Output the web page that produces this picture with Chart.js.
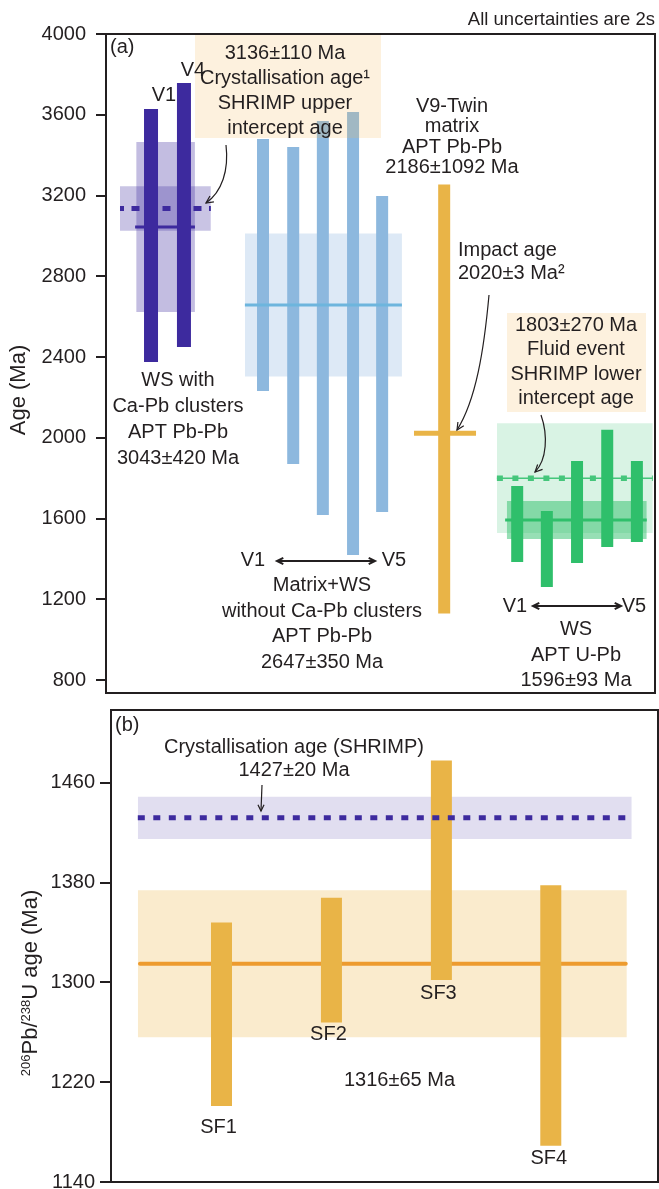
<!DOCTYPE html>
<html>
<head>
<meta charset="utf-8">
<script src="https://cdn.jsdelivr.net/npm/chart.js@4.4.1/dist/chart.umd.min.js"></script>
<style>
  html, body { margin: 0; padding: 0; background: #fff; }
  #wrap { position: relative; width: 659px; height: 1189px; overflow: hidden; }
  canvas { position: absolute; left: 0; }
  #chartA { top: 0; }
  #chartB { top: 700px; }
</style>
</head>
<body>
<div id="wrap">
  <canvas id="chartA" width="659" height="700"></canvas>
  <canvas id="chartB" width="659" height="489"></canvas>
</div>
<script>
// ---------- panel (a) data ----------
const yTicksA = [800, 1200, 1600, 2000, 2400, 2800, 3200, 3600, 4000];
// WS with Ca-Pb clusters, V1 and V4
const wsX  = [8.2, 14.2];
const wsLo = [2375, 2450];
const wsHi = [3629, 3757];
const wsAge = [3044, 421];          // mean, 2s
const crystAgeA = [3136, 110];
// Matrix+WS without Ca-Pb clusters, V1..V5
const mxX  = [28.6, 34.1, 39.5, 45.0, 50.3];
const mxLo = [2232, 1870, 1618, 1420, 1632];
const mxHi = [3480, 3440, 3569, 3614, 3198];
const mxAge = [2658, 354];
// V9-Twin matrix
const twinX  = [61.6];
const twinLo = [1130];
const twinHi = [3255];
const impactAge = 2022;
// WS APT U-Pb, V1..V5
const upX  = [74.9, 80.3, 85.8, 91.3, 96.7];
const upLo = [1385, 1261, 1380, 1459, 1484];
const upHi = [1761, 1637, 1885, 2040, 1885];
const upAge = [1593, 94];
const fluidAge = [1800, 272];

// ---------- panel (b) data ----------
const yTicksB = [1140, 1220, 1300, 1380, 1460];
const sfNames = ['SF1', 'SF2', 'SF3', 'SF4'];
const sfX  = [20.2, 40.3, 60.4, 80.4];
const sfLo = [1201, 1268, 1302, 1169];
const sfHi = [1348, 1368, 1478, 1378];
const sfAge = [1315, 59];
const crystAgeB = [1432, 17];

const INK = '#231f20';
const FONT = "'Liberation Sans', Arial, sans-serif";
const PURPLE = '#3d2a9e', BLUE = '#8db8de', ORANGE = '#e9b447', GREEN = '#2fbf6b';

// ---------- helpers for datasets ----------
function vbar(x, lo, hi, color, w) {
  return { data: [{x: x, y: lo}, {x: x, y: hi}], borderColor: color, borderWidth: w,
           borderCapStyle: 'butt', pointRadius: 0, fill: false };
}
function hline(x0, x1, y, color, w, dash, off, cap) {
  return { data: [{x: x0, y: y}, {x: x1, y: y}], borderColor: color, borderWidth: w,
           borderDash: dash || [], borderDashOffset: off || 0, borderCapStyle: cap || 'butt',
           pointRadius: 0, fill: false };
}
function box(x0, x1, lo, hi, color) {
  return { data: [{x: x0, y: hi}, {x: x1, y: hi}], borderColor: 'transparent', borderWidth: 0,
           backgroundColor: color, fill: {value: lo}, pointRadius: 0 };
}
function stackOrder(list) { // later in list = drawn on top
  list.forEach((d, i) => { d.order = list.length - i; });
  return list;
}

function txt(ctx, lines, x, y0, step, align, size) {
  ctx.font = (size || 20) + 'px ' + FONT;
  ctx.fillStyle = INK;
  ctx.textAlign = align || 'center';
  ctx.textBaseline = 'middle';
  lines.forEach((s, i) => ctx.fillText(s, x, y0 + i * step));
}
function head(ctx, x, y, ang, L) {
  ctx.beginPath();
  ctx.moveTo(x - L * Math.cos(ang - 0.45), y - L * Math.sin(ang - 0.45));
  ctx.lineTo(x, y);
  ctx.lineTo(x - L * Math.cos(ang + 0.45), y - L * Math.sin(ang + 0.45));
  ctx.stroke();
}
function curveArrow(ctx, p) {
  ctx.strokeStyle = INK; ctx.lineWidth = 1.2;
  ctx.beginPath();
  ctx.moveTo(p[0], p[1]);
  ctx.bezierCurveTo(p[2], p[3], p[4], p[5], p[6], p[7]);
  ctx.stroke();
  head(ctx, p[6], p[7], Math.atan2(p[7] - p[5], p[6] - p[4]), 8);
}
function dblArrow(ctx, x0, x1, y) {
  ctx.strokeStyle = INK; ctx.lineWidth = 2;
  ctx.beginPath(); ctx.moveTo(x0 + 1, y); ctx.lineTo(x1 - 1, y); ctx.stroke();
  head(ctx, x0, y, Math.PI, 7);
  head(ctx, x1, y, 0, 7);
}
function frame(ctx, a) {
  ctx.strokeStyle = INK; ctx.lineWidth = 2;
  ctx.strokeRect(a.left, a.top, a.right - a.left, a.bottom - a.top);
}

function yAxis(min, max, ticks, width, pad, tickLen) {
  return {
    type: 'linear', min: min, max: max,
    afterBuildTicks: s => { s.ticks = ticks.map(v => ({value: v})); },
    afterFit: s => { s.width = width; s.paddingTop = 0; s.paddingBottom = 0; },
    grid: { drawOnChartArea: false, drawTicks: true, tickLength: tickLen, color: INK, lineWidth: 2 },
    border: { display: true, color: INK, width: 2 },
    ticks: { color: INK, padding: pad, font: { family: FONT, size: 20 }, callback: v => String(v) }
  };
}
const baseOpts = {
  responsive: false, animation: false, devicePixelRatio: 1,
  plugins: { legend: { display: false }, tooltip: { enabled: false } },
  elements: { line: { tension: 0 } }
};

// ---------- panel (a) ----------
const dsA = [];
dsA.push(box(25.3, 53.9, mxAge[0] - mxAge[1], mxAge[0] + mxAge[1], '#dde9f6'));
dsA.push(box(5.5, 16.2, wsAge[0] - wsAge[1], wsAge[0] + wsAge[1], 'rgba(61,42,158,0.31)'));
dsA.push(box(2.55, 19.1, crystAgeA[0] - crystAgeA[1], crystAgeA[0] + crystAgeA[1], 'rgba(61,42,158,0.28)'));
dsA.push(hline(2.55, 19.1, crystAgeA[0], PURPLE, 5, [8, 7.5], 4));
dsA.push(hline(5.3, 16.2, wsAge[0], PURPLE, 3));
wsX.forEach((x, i) => dsA.push(vbar(x, wsLo[i], wsHi[i], PURPLE, 14)));
mxX.forEach((x, i) => dsA.push(vbar(x, mxLo[i], mxHi[i], BLUE, 12)));
dsA.push(hline(25.3, 53.9, mxAge[0], '#6db5dd', 3));
dsA.push(hline(56.1, 67.4, impactAge, ORANGE, 5));
twinX.forEach((x, i) => dsA.push(vbar(x, twinLo[i], twinHi[i], ORANGE, 12)));
dsA.push(box(71.2, 99.6, fluidAge[0] - fluidAge[1], fluidAge[0] + fluidAge[1], 'rgba(47,191,107,0.18)'));
dsA.push(hline(71.2, 99.6, fluidAge[0], '#45c67b', 1.5));
dsA.push(hline(71.2, 99.6, fluidAge[0], '#45c67b', 5.5, [6, 9.5], 0));
dsA.push(box(73.0, 98.5, upAge[0] - upAge[1], upAge[0] + upAge[1], 'rgba(47,191,107,0.5)'));
dsA.push(hline(72.7, 98.5, upAge[0], GREEN, 3));
upX.forEach((x, i) => dsA.push(vbar(x, upLo[i], upHi[i], GREEN, 12)));

const annotA = {
  id: 'annotA',
  afterDatasetsDraw(chart) {
    const ctx = chart.ctx, a = chart.chartArea;
    ctx.save();
    // peach note boxes
    ctx.fillStyle = 'rgba(245,185,90,0.2)';
    ctx.fillRect(195, a.top, 186, 138 - a.top);
    ctx.fillRect(507, 313, 139, 99);
    frame(ctx, a);

    txt(ctx, ['All uncertainties are 2s'], 655, 20, 0, 'right', 18.5);
    txt(ctx, ['(a)'], 110, 47, 0, 'left');
    txt(ctx, ['V1'], 164, 95, 0);
    txt(ctx, ['V4'], 193, 70, 0);
    txt(ctx, ['3136±110 Ma', 'Crystallisation age¹', 'SHRIMP upper', 'intercept age'], 285, 53, 25);
    txt(ctx, ['V9-Twin', 'matrix', 'APT Pb-Pb', '2186±1092 Ma'], 452, 106, 20.5);
    txt(ctx, ['Impact age', '2020±3 Ma²'], 458, 250, 23, 'left');
    txt(ctx, ['1803±270 Ma', 'Fluid event', 'SHRIMP lower', 'intercept age'], 576, 325, 24.5);
    txt(ctx, ['WS with', 'Ca-Pb clusters', 'APT Pb-Pb', '3043±420 Ma'], 178, 380.5, 26);
    txt(ctx, ['V1'], 253, 560, 0);
    txt(ctx, ['V5'], 394, 560, 0);
    txt(ctx, ['Matrix+WS', 'without Ca-Pb clusters', 'APT Pb-Pb', '2647±350 Ma'], 322, 585.5, 25.5);
    txt(ctx, ['V1'], 515, 606, 0);
    txt(ctx, ['V5'], 634, 606, 0);
    txt(ctx, ['WS', 'APT U-Pb', '1596±93 Ma'], 576, 629.5, 25.5);

    dblArrow(ctx, 277, 375, 561);
    dblArrow(ctx, 533, 621, 606);
    curveArrow(ctx, [226, 145, 229, 170, 222, 192, 206, 203]);
    curveArrow(ctx, [489, 295, 484, 350, 476, 400, 457, 430]);
    curveArrow(ctx, [541, 415, 548, 435, 547, 460, 535, 472]);

    // y title
    ctx.translate(19, 390);
    ctx.rotate(-Math.PI / 2);
    txt(ctx, ['Age (Ma)'], 0, 0, 0, 'center', 22);
    ctx.restore();
  }
};

new Chart(document.getElementById('chartA'), {
  type: 'line',
  data: { datasets: stackOrder(dsA) },
  options: Object.assign({}, baseOpts, {
    layout: { padding: { top: 34, right: 4, bottom: 7, left: 0 } },
    scales: {
      x: { type: 'linear', min: 0, max: 100, display: false },
      y: yAxis(736, 4000, yTicksA, 106, 10, 10)
    }
  }),
  plugins: [annotA]
});

// ---------- panel (b) ----------
const dsB = [];
dsB.push(box(4.9, 95.2, crystAgeB[0] - crystAgeB[1], crystAgeB[0] + crystAgeB[1], '#e1def0'));
dsB.push(box(4.9, 94.3, sfAge[0] - sfAge[1], sfAge[0] + sfAge[1], '#faebcd'));
dsB.push(hline(5.3, 94.1, sfAge[0], '#ed9b2e', 4, [], 0, 'round'));
sfX.forEach((x, i) => dsB.push(vbar(x, sfLo[i], sfHi[i], ORANGE, 21)));
dsB.push(hline(4.9, 94.3, crystAgeB[0], PURPLE, 5, [7, 8.5], 0));

const annotB = {
  id: 'annotB',
  afterDatasetsDraw(chart) {
    const ctx = chart.ctx, a = chart.chartArea;
    const xs = chart.scales.x, ys = chart.scales.y;
    ctx.save();
    frame(ctx, a);
    txt(ctx, ['(b)'], 115, 25, 0, 'left');
    txt(ctx, ['Crystallisation age (SHRIMP)', '1427±20 Ma'], 294, 47.5, 23);
    ctx.strokeStyle = INK; ctx.lineWidth = 1.2;
    ctx.beginPath(); ctx.moveTo(262, 85); ctx.lineTo(261, 111); ctx.stroke();
    head(ctx, 261, 111, Math.PI / 2, 7);
    // SF labels under each bar
    const off = [22, 12, 14, 13];
    sfNames.forEach((n, i) => {
      const yl = ys.getPixelForValue(sfLo[i]) + off[i];
      txt(ctx, [n], xs.getPixelForValue(sfX[i]) - 3 + (i === 3 ? 1 : 0), yl, 0);
    });
    txt(ctx, ['1316±65 Ma'], 399.5, 380.5, 0);

    // y title with superscripts
    ctx.translate(37, 275);
    ctx.rotate(-Math.PI / 2);
    const parts = [['206', 13, 1], ['Pb/', 22, 8], ['238', 13, 1], ['U age (Ma)', 22, 8]];
    let total = 0;
    parts.forEach(p => { ctx.font = p[1] + 'px ' + FONT; total += ctx.measureText(p[0]).width; });
    let cx = -total / 2 - 8;
    ctx.fillStyle = INK; ctx.textAlign = 'left'; ctx.textBaseline = 'alphabetic';
    parts.forEach(p => {
      ctx.font = p[1] + 'px ' + FONT;
      ctx.fillText(p[0], cx, p[2] - 8);
      cx += ctx.measureText(p[0]).width;
    });
    ctx.restore();
  }
};

new Chart(document.getElementById('chartB'), {
  type: 'line',
  data: { datasets: stackOrder(dsB) },
  options: Object.assign({}, baseOpts, {
    layout: { padding: { top: 10, right: 1, bottom: 7, left: 0 } },
    scales: {
      x: { type: 'linear', min: 0, max: 100, display: false },
      y: yAxis(1140, 1518.5, yTicksB, 111, 5, 11)
    }
  }),
  plugins: [annotB]
});
</script>
</body>
</html>
